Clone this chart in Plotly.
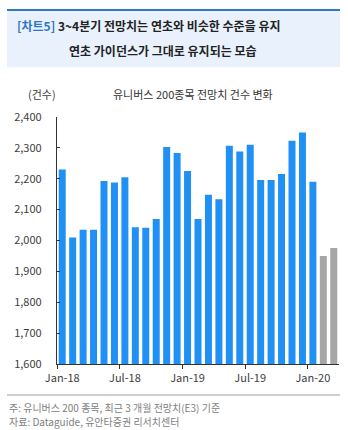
import plotly.graph_objects as go

months = ["Jan-18", "Feb-18", "Mar-18", "Apr-18", "May-18", "Jun-18", "Jul-18", "Aug-18", "Sep-18",
          "Oct-18", "Nov-18", "Dec-18", "Jan-19", "Feb-19", "Mar-19", "Apr-19", "May-19", "Jun-19",
          "Jul-19", "Aug-19", "Sep-19", "Oct-19", "Nov-19", "Dec-19", "Jan-20", "Feb-20", "Mar-20"]
counts = [2230, 2010, 2035, 2035, 2193, 2188, 2205, 2043, 2041, 2070, 2303, 2283, 2225, 2070, 2148,
          2134, 2307, 2288, 2310, 2196, 2196, 2215, 2323, 2350, 2190, 1950, 1976]
is_forecast = [False] * 25 + [True] * 2
tick_labels = ["Jan-18", "Jul-18", "Jan-19", "Jul-19", "Jan-20"]
y_ticks = [1600, 1700, 1800, 1900, 2000, 2100, 2200, 2300, 2400]

W, H = 348, 430
L, R, T, B = 57, 339, 117, 364
PW, PH = R - L, B - T

def px(x):
    return (x - L) / PW

def py(y):
    return (B - y) / PH

idx = list(range(len(months)))
colors = ["#A6A6A6" if f else "#2190F5" for f in is_forecast]
tickpos = [months.index(m) for m in tick_labels]

fig = go.Figure()
fig.add_trace(go.Bar(x=idx, y=counts, marker=dict(color=colors, line=dict(width=0)),
                     hoverinfo="x+y"))

fontk = "Noto Sans CJK KR, Noto Sans, sans-serif"

fig.update_layout(
    width=W, height=H,
    margin=dict(l=L, r=W - R, t=T, b=H - B, pad=0),
    paper_bgcolor="white", plot_bgcolor="white",
    showlegend=False, bargap=0.33,
    font=dict(family=fontk, color="#404040"),
    xaxis=dict(
        range=[-0.5, len(months) - 0.5],
        tickmode="array", tickvals=tickpos, ticktext=tick_labels,
        ticks="", showgrid=False, zeroline=False,
        showline=True, linecolor="#333333", linewidth=1.2,
        tickfont=dict(size=11, color="#404040", family=fontk),
        ticklabelstandoff=4,
        minor=dict(tickmode="array", tickvals=[p - 0.5 for p in tickpos],
                   ticks="outside", ticklen=4, tickcolor="#333333", tickwidth=1.2),
        fixedrange=True,
    ),
    yaxis=dict(
        range=[1600, 2400], tickmode="array", tickvals=y_ticks,
        tickformat=",", ticks="inside", ticklen=3, tickcolor="#333333", tickwidth=1.2,
        showgrid=False, zeroline=False,
        showline=True, linecolor="#333333", linewidth=1.2,
        tickfont=dict(size=11, color="#404040", family=fontk),
        ticklabelstandoff=12,
        fixedrange=True,
    ),
)

shapes = [
    dict(type="rect", xref="paper", yref="paper", x0=px(7), x1=px(340), y0=py(67), y1=py(10),
         fillcolor="#E9F2FC", line=dict(width=0), layer="below"),
    dict(type="line", xref="paper", yref="paper", x0=px(7), x1=px(340), y0=py(10), y1=py(10),
         line=dict(color="#2E7BC4", width=2)),
    dict(type="line", xref="paper", yref="paper", x0=px(7), x1=px(340), y0=py(395), y1=py(395),
         line=dict(color="#A0A0A0", width=1.2)),
]
fig.update_layout(shapes=shapes)

anns = [
    dict(text="<b><span style='color:#2E75C6'>[차트5]</span> 3~4분기 전망치는 연초와 비슷한 수준을 유지</b>",
         x=px(15), y=py(26), xanchor="left", yanchor="middle",
         font=dict(size=12, color="#222222", family=fontk)),
    dict(text="<b>연초 가이던스가 그대로 유지되는 모습</b>",
         x=px(163), y=py(51), xanchor="center", yanchor="middle",
         font=dict(size=12, color="#222222", family=fontk)),
    dict(text="유니버스 200종목 전망치 건수 변화",
         x=px(193), y=py(94), xanchor="center", yanchor="middle",
         font=dict(size=11, color="#333333", family=fontk)),
    dict(text="(건수)",
         x=px(42), y=py(94), xanchor="center", yanchor="middle",
         font=dict(size=11, color="#404040", family=fontk)),
    dict(text="주: 유니버스 200 종목, 최근 3 개월 전망치(E3) 기준",
         x=px(7), y=py(407), xanchor="left", yanchor="middle",
         font=dict(size=10, color="#808080", family=fontk)),
    dict(text="자료: Dataguide, 유안타증권 리서치센터",
         x=px(7), y=py(421), xanchor="left", yanchor="middle",
         font=dict(size=10, color="#808080", family=fontk)),
]
for a in anns:
    a.update(xref="paper", yref="paper", showarrow=False)
fig.update_layout(annotations=anns)

fig.write_html("out.html", config={"displayModeBar": False})
